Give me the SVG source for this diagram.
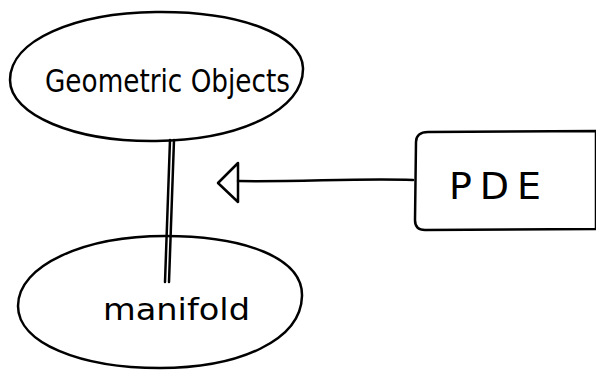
<svg xmlns="http://www.w3.org/2000/svg" width="596" height="370" viewBox="0 0 596 370">
<style>
.shape{fill:none;stroke:#000;stroke-width:2.5;stroke-linecap:round;stroke-linejoin:round}
.lbl{font-family:"DejaVu Sans","Liberation Sans",sans-serif;fill:#000;font-weight:normal}
</style>
<rect width="596" height="370" fill="#fff"/>
<g id="connectors">
<path class="shape" d="M170,140 L165,282"/>
<path class="shape" d="M174,140 L169,282"/>
<path class="shape" d="M413,180 C360,178 300,182 238,181"/>
<path class="shape" d="M238,163 L218,183 L238,202 Z"/>
</g>
<g id="geometric-objects">
<path class="shape" d="M156,12 C240,11 302,35 303,68 C304,110 240,140 156,141 C75,142 10,115 10,80 C10,40 75,13 156,12 Z"/>
<text class="lbl" x="45" y="92" font-size="32" textLength="245" lengthAdjust="spacingAndGlyphs">Geometric Objects</text>
</g>
<g id="manifold">
<path class="shape" d="M165,236 C245,236 303,258 302,296 C301,340 240,368 160,368 C80,368 18,343 18,306 C18,265 85,236 165,236 Z"/>
<text class="lbl" x="103" y="320" font-size="31" textLength="147" lengthAdjust="spacingAndGlyphs">manifold</text>
</g>
<g id="pde">
<path class="shape" d="M428,132 L596,131 L596,229 L425,230 C418,230 415,226 415,220 L416,142 C416,136 420,132 428,132 Z"/>
<text class="lbl" x="449" y="199" font-size="38" textLength="92" lengthAdjust="spacing">PDE</text>
</g>
</svg>
